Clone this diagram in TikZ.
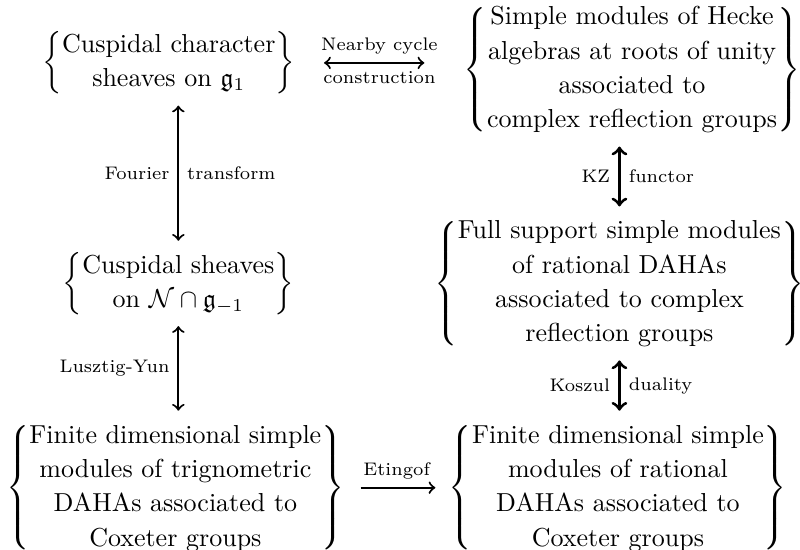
\documentclass[tikz,border=0pt]{standalone}
\usepackage{amssymb}
\newcommand{\braceset}[1]{$\left\{\renewcommand{\arraystretch}{1.1}\begin{tabular}{@{}c@{}}#1\end{tabular}\right\}$}

\begin{document}
\begin{tikzpicture}[
        setnode/.style={
            inner sep=3pt,
            font=\normalsize
        },
        lbl/.style={
            font=\scriptsize,
            inner sep=3pt
        },
        arrow/.style={
            <->,
            line width=0.8pt
        },
        heavyarrow/.style={
            arrow,
            line width=1.2pt
        }
    ]
    \useasboundingbox (0,0) rectangle (10.81,-7.42);

    \node[setnode] (cuspchar)  at (2.28,-0.85) {\braceset{Cuspidal character\\ sheaves on $\mathfrak{g}_1$}};
    \node[setnode] (hecke)     at (8.54,-0.94) {\braceset{Simple modules of Hecke\\ algebras at roots of unity\\ associated to\\ complex reflection groups}};
    \node[setnode] (cuspsheaf) at (2.41,-3.83) {\braceset{Cuspidal sheaves\\ on $\mathcal{N}\cap\mathfrak{g}_{-1}$}};
    \node[setnode] (fullsupp)  at (8.37,-3.83) {\braceset{Full support simple modules\\ of rational DAHAs\\ associated to complex\\ reflection groups}};
    \node[setnode] (trigdaha)  at (2.37,-6.59) {\braceset{Finite dimensional simple\\ modules of trignometric\\ DAHAs associated to\\ Coxeter groups}};
    \node[setnode] (ratdaha)   at (8.35,-6.59) {\braceset{Finite dimensional simple\\ modules of rational\\ DAHAs associated to\\ Coxeter groups}};

    \draw[arrow, shorten <=8pt, shorten >=12pt] (cuspchar.east) -- (cuspchar.east -| hecke.west)
        node[midway, lbl, above] {Nearby cycle}
        node[midway, lbl, below] {construction};
    \draw[arrow] (cuspsheaf.north) -- (cuspsheaf.north |- cuspchar.south)
        node[midway, lbl, left] {Fourier}
        node[midway, lbl, right] {transform};
    \draw[arrow] (cuspsheaf.south) -- (cuspsheaf.south |- trigdaha.north)
        node[midway, lbl, left] {Lusztig-Yun};
    \draw[heavyarrow] (fullsupp.north) -- (fullsupp.north |- hecke.south)
        node[midway, lbl, left] {KZ}
        node[midway, lbl, right] {functor};
    \draw[heavyarrow] (fullsupp.south) -- (fullsupp.south |- ratdaha.north)
        node[midway, lbl, left] {Koszul}
        node[midway, lbl, right] {duality};
    \draw[->, line width=0.8pt, shorten <=3pt, shorten >=2pt] (trigdaha.east) -- (ratdaha.west)
        node[midway, lbl, above] {Etingof};
\end{tikzpicture}
\end{document}
